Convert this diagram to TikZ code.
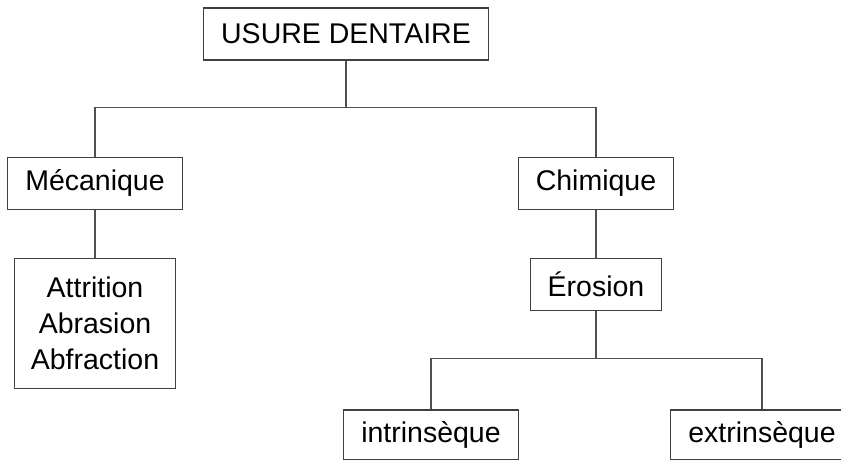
\documentclass[tikz,border=0pt]{standalone}
\usepackage{fontspec}
\setmainfont{Liberation Sans}
\usepackage{tikz}
\usetikzlibrary{positioning}
\definecolor{colorframe}{RGB}{64,64,64}
\definecolor{colorline} {RGB}{80,80,80}
\definecolor{colortext} {RGB}{0,0,0}

\begin{document}
\begin{tikzpicture}[
    x=1pt, y=1pt,
    font={\fontsize{28.5}{36}\selectfont},
    base/.style={text=colortext,align=center,rectangle,draw=colorframe,line width=1.3pt,
                 inner xsep=17.5pt,minimum height=52pt},
    link/.style={draw=colorline,line width=1.2pt},
]

    \useasboundingbox (0,0) rectangle (841,-459);

    % Nodes
    \node[base] (usure) at (346,-34) {USURE DENTAIRE};
    \node[base,below=96pt of usure.south,xshift=-251pt] (mecanique) {Mécanique};
    \node[base,below=96pt of usure.south,xshift=250pt]  (chimique)  {Chimique};
    \node[base,below=48pt of mecanique.south,minimum height=130pt,inner xsep=16.5pt] (attrition)
        {Attrition\\Abrasion\\Abfraction};
    \node[base,below=48pt of chimique.south]  (erosion)     {Érosion};
    \node[base,below=98pt of erosion.south,xshift=-165pt,minimum height=50pt] (intrinseque) {intrinsèque};
    \node[base,below=98pt of erosion.south,xshift=166pt,minimum height=50pt]  (extrinseque) {extrinsèque};

    % Arrows
    \draw[link](usure.south) -- ++(0,-47) -| (mecanique.north);
    \draw[link](usure.south) -- ++(0,-47) -| (chimique.north);
    \draw[link](mecanique) -- (attrition);
    \draw[link](chimique) -- (erosion);
    \draw[link](erosion.south) -- ++(0,-47) -| (intrinseque.north);
    \draw[link](erosion.south) -- ++(0,-47) -| (extrinseque.north);

\end{tikzpicture}
\end{document}
